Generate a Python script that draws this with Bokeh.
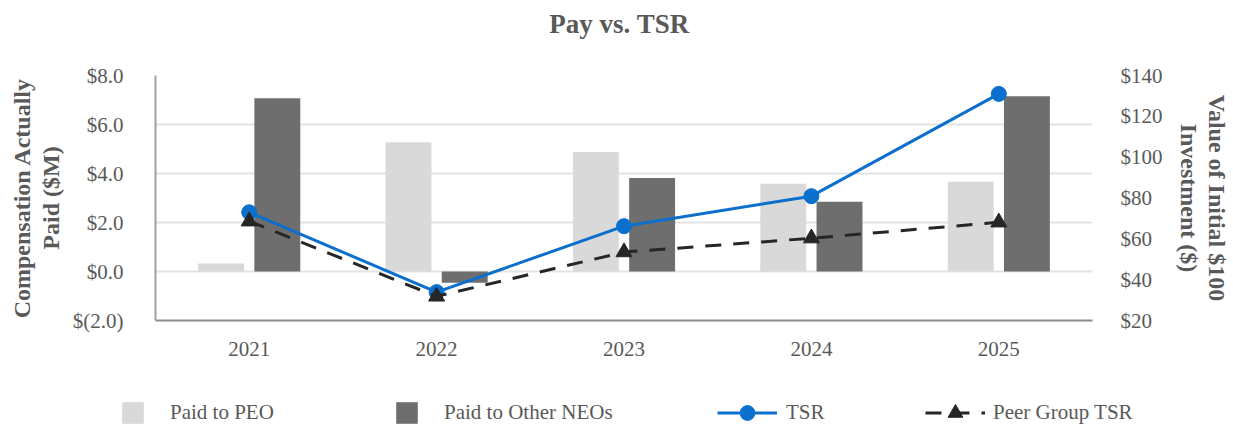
from bokeh.plotting import figure
from bokeh.layouts import column, row
from bokeh.models import (Range1d, LinearAxis, FixedTicker, Legend, LegendItem,
                          Label, FactorRange, ColumnDataSource)
from bokeh.transform import dodge
from bokeh.embed import file_html
from bokeh.resources import INLINE

# ---------------- data ----------------
years = ["2021", "2022", "2023", "2024", "2025"]
paid_peo = [0.33, 5.28, 4.88, 3.58, 3.66]
paid_other_neos = [7.07, -0.46, 3.82, 2.85, 7.15]
tsr = [73.0, 33.9, 66.2, 80.9, 131.0]
peer_group_tsr = [68.6, 31.8, 53.5, 60.3, 68.1]

left_ticks = [-2, 0, 2, 4, 6, 8]
left_tick_labels = ["$(2.0)", "$0.0", "$2.0", "$4.0", "$6.0", "$8.0"]
right_ticks = [20, 40, 60, 80, 100, 120, 140]
right_tick_labels = ["$20", "$40", "$60", "$80", "$100", "$120", "$140"]

FONT = "Liberation Serif"
GRAY = "#595959"
BLUE = "#0B6FCE"
BLACK = "#262626"
LIGHT = "#D9D9D9"
DARK = "#6E6E6E"
DASH = "16 12"
W = 1233

src = ColumnDataSource(dict(year=years, peo=paid_peo, neo=paid_other_neos,
                            tsr=tsr, peer=peer_group_tsr))


def blank_fig(h):
    f = figure(width=W, height=h, output_backend="svg", toolbar_location=None,
               title=None, x_range=Range1d(0, 1), y_range=Range1d(0, 1),
               x_axis_location=None, y_axis_location=None, min_border=0)
    f.outline_line_color = None
    f.grid.visible = False
    return f


# ---------------- title strip ----------------
title_fig = blank_fig(45)
title_fig.add_layout(Label(x=619, y=22, x_units="screen", y_units="screen",
                           text="Pay vs. TSR", text_align="center",
                           text_baseline="middle", text_font=FONT,
                           text_font_style="bold", text_font_size="27px",
                           text_color=GRAY))

# ---------------- main chart ----------------
p = figure(x_range=FactorRange(*years), y_range=Range1d(-2, 8),
           width=W, height=335, output_backend="svg", toolbar_location=None,
           title=None, min_border_left=155, min_border_right=141,
           min_border_top=30, min_border_bottom=60)
p.extra_y_ranges = {"tsr": Range1d(20, 140)}
p.outline_line_color = None

r_peo = p.vbar(x=dodge("year", -0.15, range=p.x_range), top="peo", bottom=0,
               width=0.245, source=src, fill_color=LIGHT, line_color=None)
r_neo = p.vbar(x=dodge("year", 0.15, range=p.x_range), top="neo", bottom=0,
               width=0.245, source=src, fill_color=DARK, line_color=None)

p.line("year", "tsr", source=src, y_range_name="tsr", line_color=BLUE, line_width=3)
p.scatter("year", "tsr", source=src, y_range_name="tsr", marker="circle",
          size=15, fill_color=BLUE, line_color=BLUE)
p.line("year", "peer", source=src, y_range_name="tsr", line_color=BLACK,
       line_width=3, line_dash=DASH)
p.scatter("year", "peer", source=src, y_range_name="tsr", marker="triangle",
          size=16, fill_color=BLACK, line_color=BLACK)

xa = p.xaxis[0]
xa.major_label_text_font = FONT
xa.major_label_text_font_size = "21px"
xa.major_label_text_color = GRAY
xa.major_label_standoff = 21
xa.major_tick_line_color = None
xa.major_tick_out = 0
xa.major_tick_in = 0
xa.minor_tick_line_color = None
xa.axis_line_color = "#8C8C8C"
xa.axis_line_width = 2

ya = p.yaxis[0]
ya.ticker = FixedTicker(ticks=left_ticks)
ya.major_label_overrides = {t: l for t, l in zip(left_ticks, left_tick_labels)}
ya.major_label_text_font = FONT
ya.major_label_text_font_size = "21px"
ya.major_label_text_color = GRAY
ya.major_label_standoff = 32
ya.major_tick_line_color = None
ya.major_tick_out = 0
ya.major_tick_in = 0
ya.minor_tick_line_color = None
ya.axis_line_color = "#A0A0A0"
ya.axis_line_width = 2
ya.axis_label = "Compensation Actually\nPaid ($M)"
ya.axis_label_text_font = FONT
ya.axis_label_text_font_style = "bold"
ya.axis_label_text_font_size = "24px"
ya.axis_label_text_color = GRAY
ya.axis_label_standoff = 6
ya.axis_label_text_line_height = 1.1

ra = LinearAxis(y_range_name="tsr", ticker=FixedTicker(ticks=right_ticks))
ra.major_label_overrides = {t: l for t, l in zip(right_ticks, right_tick_labels)}
ra.major_label_text_font = FONT
ra.major_label_text_font_size = "21px"
ra.major_label_text_color = GRAY
ra.major_label_standoff = 28
ra.major_tick_line_color = None
ra.major_tick_out = 0
ra.major_tick_in = 0
ra.minor_tick_line_color = None
ra.axis_line_color = None
ra.axis_label = "Value of Initial $100\nInvestment ($)"
ra.axis_label_text_font = FONT
ra.axis_label_text_font_style = "bold"
ra.axis_label_text_font_size = "24px"
ra.axis_label_text_color = GRAY
ra.axis_label_standoff = 10
ra.axis_label_text_line_height = 1.1
p.add_layout(ra, "right")

p.xgrid.visible = False
p.ygrid.grid_line_color = "#E3E3E3"
p.ygrid.grid_line_width = 2

# ---------------- legend strip ----------------
# legend proxies sit outside the visible range of this strip
leg = blank_fig(47)
lg_peo = leg.vbar(x=[-10], top=[-10], width=1, fill_color=LIGHT, line_color=None)
lg_neo = leg.vbar(x=[-10], top=[-10], width=1, fill_color=DARK, line_color=None)
lg_tsr_l = leg.line(x=[-10, -9], y=[-10, -10], line_color=BLUE, line_width=3)
lg_tsr_m = leg.scatter(x=[-10], y=[-10], marker="circle", fill_color=BLUE, line_color=BLUE)
lg_peer_l = leg.line(x=[-10, -9], y=[-10, -10], line_color=BLACK, line_width=3,
                     line_dash=DASH)
lg_peer_m = leg.scatter(x=[-10], y=[-10], marker="triangle", fill_color=BLACK,
                        line_color=BLACK)


def add_legend(label, renderers, x, y, gw, gh, standoff):
    lg = Legend(items=[LegendItem(label=label, renderers=renderers)],
                location=(x, y), orientation="horizontal",
                glyph_width=gw, glyph_height=gh, label_height=gh,
                label_standoff=standoff, padding=0, margin=0, spacing=0,
                border_line_color=None, background_fill_alpha=0,
                label_text_font=FONT, label_text_font_size="21px",
                label_text_color=GRAY)
    leg.add_layout(lg, "center")


add_legend("Paid to PEO", [lg_peo], 119, 1, 27, 27, 24)
add_legend("Paid to Other NEOs", [lg_neo], 393, 1, 27, 27, 24)
add_legend("TSR", [lg_tsr_l, lg_tsr_m], 717, -4, 60, 37, 9)
add_legend("Peer Group TSR", [lg_peer_l, lg_peer_m], 925, -4, 60, 37, 8)

layout = column(row(title_fig), p, row(leg), spacing=0)
open("out.html", "w").write(file_html(layout, INLINE))
